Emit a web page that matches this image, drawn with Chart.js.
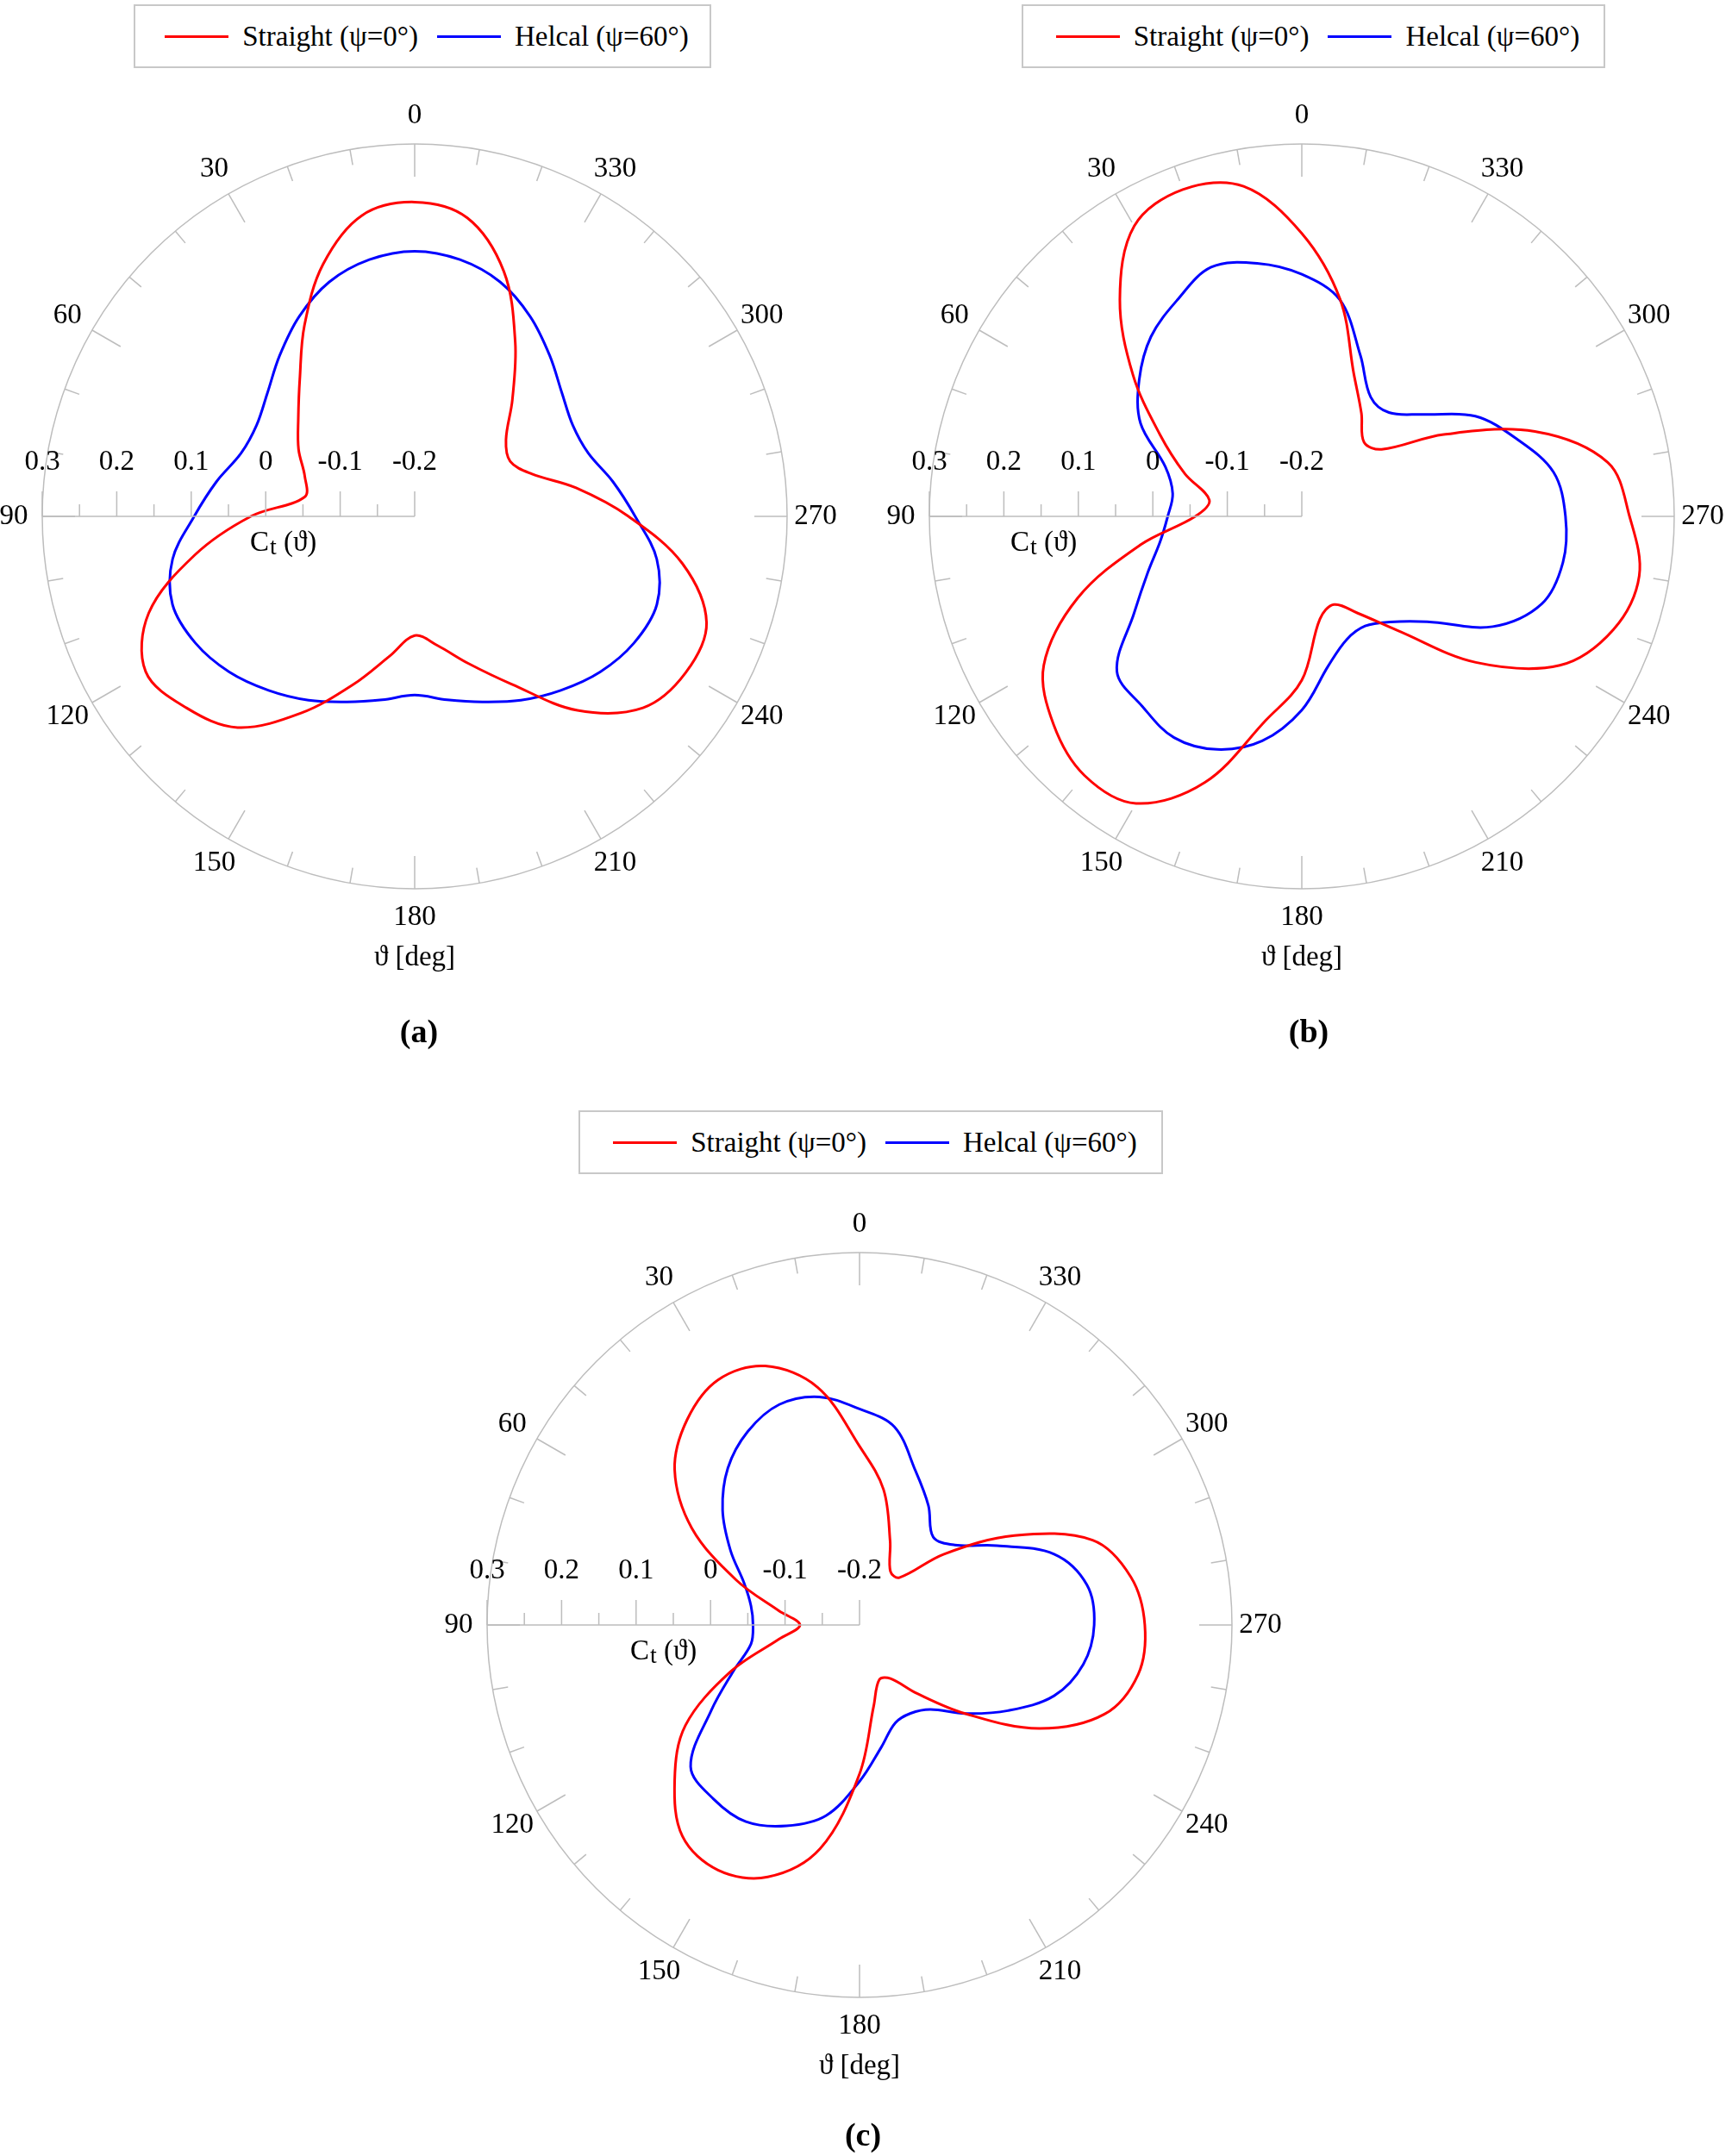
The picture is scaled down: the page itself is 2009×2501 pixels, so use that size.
<!DOCTYPE html>
<html>
<head>
<meta charset="utf-8">
<script src="https://cdn.jsdelivr.net/npm/chart.js@4/dist/chart.umd.min.js"></script>
<style>
body { margin:0; width:2009px; height:2501px; background:#fff; overflow:hidden; position:relative; font-family:"Liberation Serif", serif; }
.pane { position:absolute; width:1000px; height:1100px; }
.legend { position:absolute; border:2px solid #c8c8c8; background:#fff; height:74px; box-sizing:border-box; display:flex; align-items:center; justify-content:center; font-size:33px; white-space:nowrap; }
.legend span.sw { display:inline-block; width:74px; height:3px; margin:0 16px 0 10px; vertical-align:middle; }
.tag { position:absolute; font-size:38px; font-weight:bold; transform:translate(-50%,-50%); }
</style>
</head>
<body>
<div class="pane" style="left:-19px;top:99px"><canvas id="ca"></canvas></div>
<div class="pane" style="left:1010px;top:99px"><canvas id="cb"></canvas></div>
<div class="pane" style="left:497px;top:1385px"><canvas id="cc"></canvas></div>

<div class="legend" style="left:155px;top:5px;width:670px"><span class="sw" style="background:#ff0000"></span>Straight (ψ=0°)<span class="sw" style="background:#0000ff;margin-left:22px"></span>Helcal (ψ=60°)</div>
<div class="legend" style="left:1185px;top:5px;width:677px"><span class="sw" style="background:#ff0000"></span>Straight (ψ=0°)<span class="sw" style="background:#0000ff;margin-left:22px"></span>Helcal (ψ=60°)</div>
<div class="legend" style="left:671px;top:1288px;width:678px"><span class="sw" style="background:#ff0000"></span>Straight (ψ=0°)<span class="sw" style="background:#0000ff;margin-left:22px"></span>Helcal (ψ=60°)</div>

<div class="tag" style="left:486px;top:1196px">(a)</div>
<div class="tag" style="left:1518px;top:1196px">(b)</div>
<div class="tag" style="left:1001px;top:2476px">(c)</div>

<script>
// azimuth theta in degrees, counter-clockwise from top: 0,10,...,350
var theta = [0,10,20,30,40,50,60,70,80,90,100,110,120,130,140,150,160,170,180,190,200,210,220,230,240,250,260,270,280,290,300,310,320,330,340,350];
var angleTicks = [0,30,60,90,120,150,180,210,240,270,300,330];
var radialTicks = [0.3,0.2,0.1,0,-0.1,-0.2];

// (a)
var straightA = [0.222,0.21,0.16,0.096,0.04,0.004,-0.02,-0.043,-0.05,0.02,0.1,0.18,0.217,0.2,0.17,0.105,0.04,-0.01,-0.04,-0.024,0.01,0.06,0.14,0.2,0.22,0.217,0.165,0.087,0.02,-0.033,-0.052,-0.04,0.004,0.07,0.15,0.207];
var helicalA = [0.156,0.15,0.135,0.11,0.082,0.058,0.045,0.048,0.07,0.096,0.13,0.146,0.14,0.125,0.105,0.085,0.065,0.05,0.04,0.05,0.065,0.085,0.105,0.125,0.14,0.146,0.13,0.096,0.07,0.048,0.045,0.058,0.082,0.11,0.135,0.15];
// (b)
var straightB = [0.18,0.25,0.267,0.25,0.18,0.096,0.02,-0.033,-0.074,-0.057,0.02,0.12,0.2,0.235,0.254,0.245,0.18,0.078,0.02,-0.06,-0.074,-0.05,0.0,0.105,0.2,0.245,0.26,0.24,0.217,0.133,0.02,-0.06,-0.07,-0.04,0.004,0.096];
var helicalB = [0.125,0.145,0.156,0.135,0.115,0.085,0.05,-0.005,-0.024,-0.02,-0.007,0.02,0.06,0.124,0.133,0.143,0.133,0.106,0.06,0.004,-0.024,-0.03,-0.015,0.02,0.096,0.143,0.156,0.154,0.143,0.106,0.069,0.013,-0.018,-0.015,0.03,0.095];
// (c)
var straightC = [0.04,0.124,0.17,0.18,0.16,0.124,0.06,-0.024,-0.09,-0.12,-0.09,-0.015,0.07,0.124,0.17,0.18,0.16,0.105,0.0,-0.09,-0.122,-0.117,-0.08,-0.015,0.078,0.15,0.18,0.183,0.17,0.133,0.04,-0.052,-0.117,-0.117,-0.08,-0.015];
var helicalC = [0.09,0.111,0.115,0.1,0.075,0.04,0.0,-0.035,-0.052,-0.057,-0.052,-0.02,0.03,0.096,0.105,0.105,0.087,0.06,0.01,-0.033,-0.06,-0.063,-0.052,-0.015,0.03,0.078,0.105,0.115,0.11,0.078,0.013,-0.033,-0.046,-0.015,0.02,0.07];

var FONT = '"Liberation Serif", serif';
var GRAY = '#bdbdbd';

// radar goes clockwise, the figure counter-clockwise: reorder
function cw(arr) {
	var out = [];
	for (var k = 0; k < arr.length; k++) out.push(arr[(arr.length - k) % arr.length]);
	return out;
}

var polarDecor = {
	id: 'polarDecor',
	afterDraw: function(chart) {
		var s = chart.scales.r, c = chart.ctx;
		var cx = s.xCenter, cy = s.yCenter, R = s.drawingArea;
		c.save();
		c.strokeStyle = GRAY; c.lineWidth = 1.5;
		// ticks on the rim, inward
		for (var a = 0; a < 360; a += 10) {
			var t = a * Math.PI / 180, len = a % 30 === 0 ? 38 : 18;
			var sx = -Math.sin(t), sy = -Math.cos(t);
			c.beginPath();
			c.moveTo(cx + sx * R, cy + sy * R);
			c.lineTo(cx + sx * (R - len), cy + sy * (R - len));
			c.stroke();
		}
		// radial axis along 90 deg
		c.beginPath(); c.moveTo(cx, cy); c.lineTo(cx - R, cy); c.stroke();
		for (var v = -0.2; v <= 0.3001; v += 0.05) {
			var x = cx - s.getDistanceFromCenterForValue(v);
			var major = Math.abs(Math.round(v * 10) - v * 10) < 1e-6;
			c.beginPath(); c.moveTo(x, cy); c.lineTo(x, cy - (major ? 29 : 14)); c.stroke();
		}
		c.fillStyle = '#000';
		c.font = '33px ' + FONT;
		c.textAlign = 'center'; c.textBaseline = 'middle';
		radialTicks.forEach(function(v) {
			c.fillText(String(v), cx - s.getDistanceFromCenterForValue(v), cy - 63);
		});
		angleTicks.forEach(function(a) {
			var t = a * Math.PI / 180, rr = R + 33;
			c.fillText(String(a), cx - Math.sin(t) * rr, cy - Math.cos(t) * rr);
		});
		c.fillText('\u03d1 [deg]', cx, cy + R + 80);
		// C_t (theta)
		var lx = cx - chart.options.ctOffset, ly = cy + 31;
		c.textAlign = 'left';
		c.fillText('C', lx, ly);
		var w = c.measureText('C').width;
		c.font = '28px ' + FONT;
		c.fillText('t', lx + w + 1, ly + 6);
		var w2 = c.measureText('t').width;
		c.font = '33px ' + FONT;
		c.fillText(' (\u03d1)', lx + w + w2 + 1, ly);
		c.restore();
	}
};

function makeChart(id, straight, helical, ctOffset) {
	new Chart(document.getElementById(id), {
		type: 'radar',
		data: {
			labels: cw(theta),
			datasets: [
				{ label: 'Straight (ψ=0°)', data: cw(straight), borderColor: '#ff0000', borderWidth: 3, fill: false, pointRadius: 0, tension: 0.35 },
				{ label: 'Helcal (ψ=60°)', data: cw(helical), borderColor: '#0000ff', borderWidth: 3, fill: false, pointRadius: 0, tension: 0.35 }
			]
		},
		options: {
			ctOffset: ctOffset,
			responsive: false,
			animation: false,
			layout: { padding: { top: 68, left: 68, right: 68, bottom: 168 } },
			plugins: { legend: { display: false }, tooltip: { enabled: false } },
			scales: {
				r: {
					min: -0.2, max: 0.3,
					ticks: { display: false, stepSize: 0.1 },
					pointLabels: { display: false },
					angleLines: { display: false },
					grid: {
						circular: true,
						lineWidth: 1.5,
						color: function(ctx) { return Math.abs(ctx.tick.value - 0.3) < 1e-6 ? GRAY : 'rgba(0,0,0,0)'; }
					}
				}
			}
		},
		plugins: [polarDecor]
	});
}

['ca','cb','cc'].forEach(function(id) {
	var el = document.getElementById(id);
	el.width = 1000; el.height = 1100;
	el.style.width = '1000px'; el.style.height = '1100px';
});
makeChart('ca', straightA, helicalA, 191);
makeChart('cb', straightB, helicalB, 338);
makeChart('cc', straightC, helicalC, 266);
</script>
</body>
</html>
